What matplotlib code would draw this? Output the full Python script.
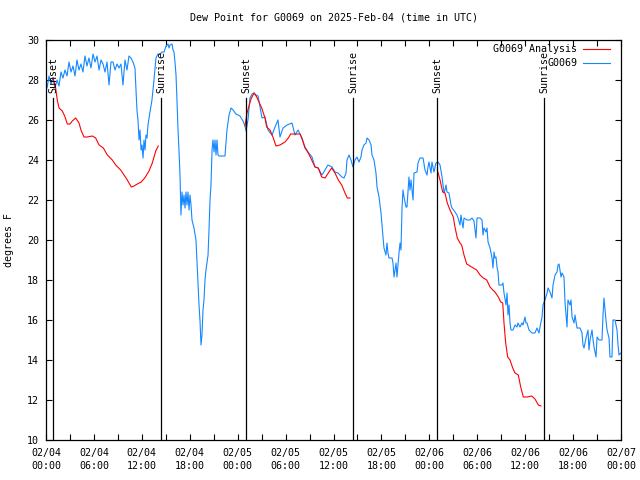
import matplotlib
matplotlib.use("Agg")
import matplotlib.pyplot as plt
import matplotlib.dates as mdates
import pandas as pd

# ---- data (hours after 2025-02-04 00:00 UTC, dew point in F) ----
START = pd.Timestamp("2025-02-04 00:00")

obs_hours = [
    0.13, 0.38, 0.63, 0.88, 1.13, 1.38, 1.63, 1.88, 2.13, 2.38, 2.63, 2.88, 3.13, 3.38,
    3.63, 3.88, 4.13, 4.38, 4.63, 4.88, 5.13, 5.38, 5.63, 5.89, 6.14, 6.39, 6.64, 6.89,
    7.14, 7.39, 7.64, 7.89, 8.14, 8.39, 8.64, 8.89, 9.14, 9.39, 9.64, 9.89, 10.14, 10.39,
    10.64, 10.89, 11.14, 11.27, 11.39, 11.52, 11.65, 11.77, 11.90, 12.02, 12.15, 12.27,
    12.40, 12.52, 12.65, 12.77, 13.02, 13.27, 13.52, 13.77, 14.02, 14.28, 14.53, 14.78,
    15.03, 15.28, 15.40, 15.53, 15.78, 15.90, 16.03, 16.15, 16.28, 16.40, 16.53, 16.65,
    16.78, 16.90, 17.03, 17.16, 17.28, 17.41, 17.53, 17.66, 17.78, 17.91, 18.03, 18.16,
    18.28, 18.53, 18.78, 18.91, 19.03, 19.16, 19.28, 19.41, 19.53, 19.66, 19.78, 19.91,
    20.03, 20.29, 20.41, 20.54, 20.66, 20.79, 20.91, 21.04, 21.16, 21.29, 21.41, 21.54,
    21.66, 22.41, 22.66, 22.92, 23.17, 23.42, 23.79, 24.29, 24.67, 24.92, 25.04, 25.29,
    25.54, 25.80, 26.05, 26.30, 26.55, 26.80, 27.05, 27.42, 27.80, 28.30, 28.68, 29.05,
    29.30, 29.68, 30.18, 30.80, 31.18, 31.56, 32.06, 32.43, 32.81, 33.31, 33.68, 34.06,
    34.56, 34.94, 35.31, 35.81, 36.19, 36.56, 37.06, 37.32, 37.57, 37.69, 37.94, 38.19,
    38.44, 38.69, 38.94, 39.19, 39.44, 39.57, 39.82, 40.07, 40.20, 40.45, 40.70, 40.82,
    41.07, 41.32, 41.45, 41.70, 41.95, 42.07, 42.20, 42.32, 42.57, 42.70, 42.82, 42.95,
    43.33, 43.45, 43.58, 43.83, 43.95, 44.20, 44.33, 44.45, 44.58, 44.70, 44.83, 45.08,
    45.20, 45.45, 45.58, 45.71, 45.96, 46.08, 46.46, 46.58, 46.83, 47.21, 47.46, 47.71,
    47.83, 47.96, 48.21, 48.33, 48.58, 48.83, 49.09, 49.34, 49.59, 49.84, 49.96, 50.09,
    50.21, 50.46, 50.71, 50.84, 51.21, 51.46, 51.59, 51.84, 51.96, 52.09, 52.22, 52.34,
    52.72, 53.09, 53.34, 53.59, 53.84, 53.97, 54.35, 54.60, 54.72, 54.85, 55.10, 55.22,
    55.35, 55.60, 55.85, 55.97, 56.10, 56.22, 56.35, 56.47, 56.60, 56.72, 57.10, 57.22,
    57.35, 57.60, 57.73, 57.85, 57.98, 58.10, 58.23, 58.48, 58.73, 58.98, 59.10, 59.35,
    59.60, 59.73, 59.98, 60.10, 60.23, 60.48, 60.86, 61.23, 61.48, 61.73, 61.86, 62.11,
    62.23, 62.48, 62.74, 62.86, 63.11, 63.36, 63.49, 63.74, 63.99, 64.11, 64.24, 64.49,
    64.61, 64.86, 64.99, 65.24, 65.36, 65.61, 65.74, 65.87, 66.12, 66.24, 66.49, 66.87,
    67.12, 67.24, 67.37, 67.62, 67.87, 67.99, 68.12, 68.37, 68.50, 68.62, 68.87, 69.00,
    69.25, 69.62, 69.75, 69.87, 70.00, 70.12, 70.25, 70.50, 70.62, 70.87, 71.00, 71.25,
    71.50, 71.63, 71.75, 72.00,
]
obs_dewpt = [
    27.6, 28.2, 27.8, 28.1, 27.6, 28.0, 27.7, 28.4, 28.1, 28.5, 28.2, 28.9, 28.4, 28.7,
    28.2, 29.0, 28.5, 28.8, 28.4, 29.2, 28.7, 29.1, 28.6, 29.3, 28.9, 29.2, 28.5, 29.0,
    28.8, 28.4, 28.9, 27.75, 28.9, 28.9, 28.5, 28.8, 28.6, 28.8, 27.75, 29.0, 28.5, 29.2,
    29.1, 28.9, 28.6, 27.5, 26.5, 26.0, 25.0, 25.5, 24.5, 24.75, 24.1, 25.0,
    24.5, 25.25, 25.1, 25.75, 26.4, 27.0, 28.0, 29.1, 29.3, 29.3, 29.4, 29.4,
    29.7, 29.8, 29.6, 29.75, 29.8, 29.5, 29.4, 28.9, 28.25, 27.0, 25.5, 24.5,
    23.25, 21.25, 22.4, 21.75, 22.25, 21.6, 22.4, 21.75, 22.4, 21.5, 22.25, 21.75,
    21.0, 20.6, 20.0, 18.9, 18.0, 16.75, 16.0, 14.75, 15.25, 16.5, 17.0, 18.0,
    18.5, 19.25, 20.5, 22.0, 22.75, 24.5, 25.0, 24.4, 25.0, 24.25, 25.0, 24.25,
    24.2, 24.2, 25.5, 26.25, 26.6, 26.5, 26.3, 26.2, 25.95, 25.7, 25.45, 26.0,
    27.1, 27.3, 27.35, 27.25, 27.2, 26.65, 26.1, 26.15, 25.5, 25.25, 25.65, 26.0,
    25.15, 25.6, 25.75, 25.85, 25.25, 25.5, 25.1, 24.65, 24.4, 24.15, 23.65, 23.6,
    23.25, 23.5, 23.75, 23.65, 23.4, 23.35, 23.15, 23.1, 23.35, 24.0, 24.25, 24.0,
    23.65, 24.0, 24.15, 23.9, 24.15, 24.5, 24.75, 24.85, 25.1, 25.0, 24.75, 24.25,
    24.0, 23.35, 22.65, 22.15, 21.35, 20.75, 20.15, 19.6, 19.25, 19.85, 19.35, 19.1,
    19.1, 18.85, 18.15, 18.85, 18.15, 19.35, 19.85, 19.5, 21.6, 22.5, 22.15, 21.65,
    21.65, 23.15, 22.5, 23.0, 22.0, 23.35, 23.4, 23.85, 24.1, 24.1, 23.5, 23.25,
    23.65, 23.9, 23.35, 23.9, 23.4, 23.85, 23.9, 23.75, 23.15, 22.35, 22.5, 22.75,
    22.4, 22.35, 21.75, 21.6, 21.4, 21.25, 21.1, 20.75, 21.25, 20.9, 20.6, 21.1,
    21.0, 21.0, 21.1, 20.95, 20.1, 21.1, 21.1, 21.0, 20.25, 20.6, 20.4, 20.6,
    19.9, 19.6, 19.1, 18.6, 19.4, 19.1, 19.15, 18.65, 18.4, 17.75, 17.75, 17.85,
    17.35, 16.75, 17.35, 16.25, 16.75, 15.85, 15.5, 15.5, 15.75, 15.65, 15.85, 15.65,
    15.85, 15.75, 16.15, 15.85, 15.85, 15.5, 15.35, 15.35, 15.6, 15.35, 15.65, 16.15,
    16.75, 17.0, 17.35, 17.6, 17.4, 17.1, 17.75, 18.25, 18.4, 18.75, 18.8, 18.15,
    18.35, 18.15, 16.9, 15.65, 17.0, 16.75, 17.0, 16.15, 15.85, 16.25, 15.6, 15.6,
    15.35, 14.75, 14.6, 15.1, 15.5, 14.5, 15.0, 15.5, 15.0, 14.65, 14.15, 15.15,
    15.0, 15.0, 16.25, 17.1, 16.5, 16.0, 15.5, 15.1, 14.15, 14.15, 16.0, 16.0,
    15.5, 14.75, 14.25, 14.35,
]

# analysis comes in three night-time chunks (sunset -> sunrise)
ana1_hours = [0.90, 1.21, 1.41, 1.63, 2.04, 2.34, 2.67, 3.01, 3.29, 3.72, 4.13, 4.42,
              4.76, 5.17, 5.80, 6.22, 6.64, 7.18, 7.68, 8.30, 8.73, 9.35, 9.77, 10.18,
              10.68, 11.02, 11.43, 11.93, 12.36, 12.90, 13.31, 13.74, 14.06]
ana1_dewpt = [28.1, 27.6, 27.0, 26.6, 26.45, 26.2, 25.8, 25.8, 25.95, 26.1, 25.85, 25.45,
              25.15, 25.15, 25.2, 25.1, 24.75, 24.6, 24.25, 24.0, 23.75, 23.5, 23.25, 23.0,
              22.65, 22.7, 22.8, 22.9, 23.1, 23.45, 23.85, 24.45, 24.7]

ana2_hours = [24.92, 25.17, 25.42, 25.67, 26.05, 26.38, 27.01, 27.42, 27.63, 28.05, 28.46,
              28.80, 29.30, 29.93, 30.34, 30.64, 31.81, 32.02, 32.43, 32.85, 33.27, 33.68,
              34.10, 34.52, 34.94, 35.35, 35.77, 36.19, 36.60, 37.03, 37.44, 37.73, 38.07]
ana2_dewpt = [25.7, 26.35, 26.7, 27.05, 27.35, 27.15, 26.6, 26.1, 25.65, 25.5, 25.1,
              24.7, 24.75, 24.9, 25.1, 25.3, 25.3, 25.1, 24.6, 24.35, 24.0, 23.65,
              23.6, 23.15, 23.1, 23.35, 23.6, 23.35, 23.0, 22.75, 22.35, 22.1, 22.1]

ana3_hours = [49.00, 49.34, 49.67, 49.96, 50.25, 50.59, 51.00, 51.21, 51.50, 51.84, 52.05,
              52.34, 52.68, 53.09, 53.51, 53.93, 54.35, 54.76, 55.19, 55.60, 55.94, 56.22,
              56.64, 56.94, 57.19, 57.35, 57.56, 57.81, 58.10, 58.44, 58.73, 59.14, 59.44,
              59.77, 60.27, 60.82, 61.23, 61.65, 61.98]
ana3_dewpt = [23.5, 23.0, 22.4, 22.35, 21.85, 21.5, 21.15, 20.65, 20.1, 19.85, 19.75,
              19.25, 18.8, 18.7, 18.6, 18.5, 18.25, 18.1, 18.0, 17.65, 17.5, 17.4,
              17.15, 16.9, 16.85, 15.85, 14.85, 14.15, 14.0, 13.6, 13.35, 13.25, 12.65,
              12.15, 12.15, 12.2, 12.05, 11.75, 11.7]

sun_hours = [0.88, 14.40, 25.04, 38.44, 48.96, 62.36]
sun_labels = ["Sunset", "Sunrise", "Sunset", "Sunrise", "Sunset", "Sunrise"]


def to_time(hours):
    return START + pd.to_timedelta(hours, unit="h")


plt.rcParams["font.family"] = "DejaVu Sans Mono"
plt.rcParams["font.size"] = 7.2

fig = plt.figure(figsize=(6.4, 4.8), dpi=100)
ax = fig.add_axes([46 / 640, 40 / 480, 575 / 640, 400 / 480])

RED = "#ff0000"
BLUE = "#1488ff"

ax.plot(to_time(obs_hours), obs_dewpt, color=BLUE, lw=0.8)
for hrs, vals in [(ana1_hours, ana1_dewpt), (ana2_hours, ana2_dewpt), (ana3_hours, ana3_dewpt)]:
    ax.plot(to_time(hrs), vals, color=RED, lw=0.8)

# sunrise / sunset markers
for h, lab in zip(sun_hours, sun_labels):
    t = to_time(h)
    ax.plot([t, t], [10, 27.1], color="black", lw=0.9)
    ax.text(t, 27.35, lab, rotation=90, ha="center", va="bottom", fontsize=7.2)

ax.set_xlim(to_time(0), to_time(72))
ax.set_ylim(10, 30)
ax.set_yticks(range(10, 31, 2))

ax.xaxis.set_major_locator(mdates.HourLocator(byhour=range(0, 24, 6)))
ax.xaxis.set_minor_locator(mdates.HourLocator(byhour=range(0, 24, 3)))
ax.xaxis.set_major_formatter(mdates.DateFormatter("%m/%d\n%H:%M"))

ax.tick_params(which="both", direction="in", top=True, right=True, width=0.8)
ax.tick_params(which="major", length=4)
ax.tick_params(which="minor", length=4)
ax.tick_params(axis="x", pad=6)
ax.tick_params(axis="y", pad=5)
for lbl in ax.get_xticklabels():
    lbl.set_linespacing(1.35)
for sp in ax.spines.values():
    sp.set_linewidth(0.9)

ax.set_ylabel("degrees F", fontsize=7.2)
ax.yaxis.set_label_coords(-0.055, 0.5)
ax.set_title("Dew Point for G0069 on 2025-Feb-04 (time in UTC)", fontsize=7.2, pad=14)

# gnuplot-style key: right-aligned text, sample line on the right
key = [("G0069 Analysis", RED, 0.9775), ("G0069", BLUE, 0.9425)]
for name, col, ky in key:
    ax.text(0.9235, ky, name, transform=ax.transAxes, ha="right", va="center")
    ax.plot([0.934, 0.981], [ky, ky], transform=ax.transAxes, color=col, lw=0.8)

fig.savefig("out.png", dpi=100)
